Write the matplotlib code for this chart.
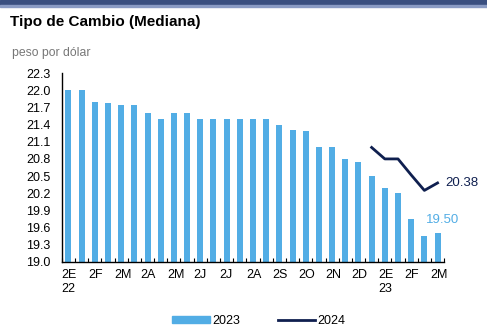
import numpy as np
import matplotlib
matplotlib.use("Agg")
import matplotlib.pyplot as plt
import matplotlib.transforms as mtransforms
from matplotlib.patches import Rectangle
from matplotlib.lines import Line2D

plt.rcParams['font.family'] = ['Liberation Sans', 'DejaVu Sans']

# Biweekly medians, second half of each month (2E 22 ... 2M 23)
values_2023 = [22.0, 22.0, 21.8, 21.78, 21.75, 21.75, 21.6, 21.5, 21.6, 21.6,
               21.5, 21.5, 21.5, 21.5, 21.5, 21.5, 21.4, 21.3, 21.28, 21.0,
               21.0, 20.8, 20.75, 20.5, 20.3, 20.2, 19.75, 19.45, 19.5]
# 2024 survey starts at the 2D position
line_start = 23
values_2024 = [21.0, 20.8, 20.8, 20.52, 20.25, 20.38]
tick_labels = ['2E\n22', '2F', '2M', '2A', '2M', '2J', '2J', '2A', '2S', '2O',
               '2N', '2D', '2E\n23', '2F', '2M']

bar_color = '#52ADE5'
line_color = '#0F1F4F'

fig = plt.figure(figsize=(4.87, 3.35), dpi=100)
ax = fig.add_axes([0.127, 0.218, 0.785, 0.564])

x = np.arange(len(values_2023))
ax.bar(x, np.array(values_2023) - 19.0, bottom=19.0, width=0.46,
       color=bar_color, zorder=2)
x24 = np.arange(line_start, line_start + len(values_2024))
ax.plot(x24, values_2024, color=line_color, lw=2.0, zorder=3)

ax.set_xlim(-0.5, 28.5)
ax.set_ylim(19.0, 22.3)
yt = np.round(np.arange(19.0, 22.31, 0.3), 1)
ax.set_yticks(yt)
ax.set_yticklabels([f'{v:.1f}' for v in yt])
ax.set_yticks([22.3], minor=True)
ax.set_xticks(np.arange(0, 29, 2))
ax.set_xticklabels(tick_labels, ha='left')
ax.set_xticks(np.arange(-0.5, 29, 1), minor=True)
ax.tick_params(axis='x', which='major', length=0, pad=5, labelsize=9)
ax.tick_params(axis='x', which='minor', direction='in', length=3, width=0.8)
ax.tick_params(axis='y', which='major', length=0, pad=8, labelsize=9)
ax.tick_params(axis='y', which='minor', direction='in', length=3, width=1.0)

for s in ['top', 'right']:
    ax.spines[s].set_visible(False)
ax.spines['left'].set_linewidth(1.0)
ax.spines['bottom'].set_linewidth(1.0)

# shift x labels so they sit left-aligned under the bars
offset = mtransforms.ScaledTranslation(-5 / 72, 0, fig.dpi_scale_trans)
for lab in ax.get_xticklabels():
    lab.set_transform(lab.get_transform() + offset)

ax.text(28.6, values_2024[-1], f'{values_2024[-1]:.2f}', color=line_color,
        fontsize=9.5, va='center', ha='left', clip_on=False)
ax.text(28.4, 19.73, f'{values_2023[-1]:.2f}', color=bar_color,
        fontsize=9.5, va='center', ha='center', clip_on=False)

handles = [Rectangle((0, 0), 1, 1, color=bar_color),
           Line2D([0], [0], color=line_color, lw=2)]
fig.legend(handles, ['2023', '2024'], loc='center', ncol=2,
           bbox_to_anchor=(0.532, 0.042), frameon=False, fontsize=9,
           handlelength=3.0, handleheight=0.45, handletextpad=0.2,
           columnspacing=3.0)

fig.text(0.021, 0.935, 'Tipo de Cambio (Mediana)', fontsize=11, weight='bold',
         va='center', ha='left')
fig.text(0.025, 0.843, 'peso por dólar', fontsize=8.8, color='#777777',
         va='center', ha='left')

fig.patches.append(Rectangle((0, 0.985), 1, 0.015, transform=fig.transFigure,
                             color='#3A4F80', zorder=0))
fig.patches.append(Rectangle((0, 0.98), 1, 0.005, transform=fig.transFigure,
                             color='#8A9BC4', zorder=0))

fig.savefig('out.png', dpi=100)
